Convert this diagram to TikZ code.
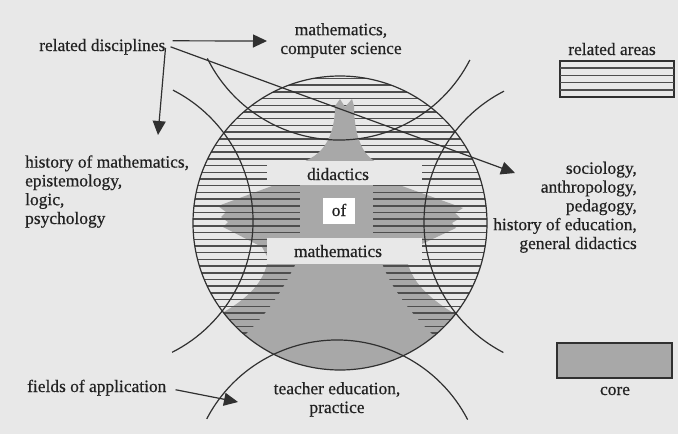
\documentclass[tikz,border=0pt]{standalone}
\usepackage{fontspec}
\setmainfont{Liberation Serif}[FakeBold=0.5]
\usetikzlibrary{arrows.meta}
\definecolor{bgc}{HTML}{E8E8E8}
\definecolor{coreg}{HTML}{A8A8A8}
\definecolor{ink}{HTML}{303030}
\definecolor{txt}{HTML}{222222}
\definecolor{hatchc}{HTML}{4E4E4E}
\begin{document}
\begin{tikzpicture}[x=1pt,y=-1pt,
  lbl/.style={inner sep=0pt, text=txt, font=\fontsize{17.4pt}{18.8pt}\selectfont},
  outl/.style={draw=ink, line width=1.2pt},
  hatchline/.style={draw=hatchc, line width=1.5pt},
  arr/.style={draw=ink, line width=1.2pt, -{Triangle[length=14pt,width=13pt]}},
]
\fill[bgc] (0,0) rectangle (678,434);
\useasboundingbox (0,0) rectangle (678,434);

% ---- interior of the main circle
\begin{scope}
\clip (340,223) circle[radius=147];
% core (gray) shape
\fill[coreg] (272,186) -- (218,206) -- (226,212) -- (221,217) -- (228,222) -- (223,227)
  -- (262,247) -- (268,258) -- (267,264) .. controls (262,285) and (245,300) .. (222,313)
  -- (212,335) -- (212,440) -- (470,440) -- (468,335) -- (455,314)
  .. controls (432,300) and (414,285) .. (408,264) -- (412,252) -- (422,244)
  -- (456,228) -- (452,223) -- (460,218) -- (455,213) -- (463,208) -- (402,186)
  -- (373,160) -- (307,160) -- cycle;
% hatching of the related areas
\foreach \k in {0,...,38}
  \draw[hatchline] (185,{78.5+6.7*\k}) -- (495,{78.5+6.7*\k});
% solid parts of the core
\fill[coreg] (307,160) .. controls (330,150) and (335,125) .. (335,106)
  -- (340,99) -- (345,107) -- (352,99) -- (354,106)
  .. controls (354,125) and (358,150) .. (373,160) -- cycle;
\fill[coreg] (300,184.5) rectangle (373,238);
\fill[coreg] (296,263.5) .. controls (285,285) and (272,310) .. (240,340)
  -- (235,440) -- (445,440) -- (438,340)
  .. controls (412,315) and (392,290) .. (382,263.5) -- cycle;
% white bands
\fill[bgc] (267,161) rectangle (422,184.5);
\fill[bgc] (267,238) rectangle (422,263.5);
\end{scope}
\fill[white] (323,198) rectangle (355,224);

% ---- outlines
\draw[outl] (340,223) circle[radius=147];
\draw[outl] (339,-7) ++(153.6:147) arc[start angle=153.6, end angle=27.1, radius=147];
\draw[outl] (106,221) ++(-62.9:147) arc[start angle=-62.9, end angle=63.3, radius=147];
\draw[outl] (571,222) ++(242.9:147) arc[start angle=242.9, end angle=117.4, radius=147];
\draw[outl] (337,487) ++(207.6:147) arc[start angle=207.6, end angle=332.7, radius=147];

% ---- legend
\draw[ink, line width=1.1pt] (560,61) rectangle (674,97);
\foreach \yy in {68.2,75.4,82.6,89.8}
  \draw[hatchline] (560,\yy) -- (674,\yy);
\filldraw[fill=coreg, draw=ink, line width=1.1pt] (557,343) rectangle (672,378);

% ---- labels (multi-line nodes: base = last line)
\node[lbl, anchor=base west] (reldisc) at (39,51) {related disciplines};
\node[lbl, align=center, anchor=base] (mathcs) at (341,54) {mathematics,\\computer science};
\node[lbl, anchor=base] (relareas) at (612,55) {related areas};
\node[lbl, align=left, anchor=base west] (histm) at (25,224) {history of mathematics,\\epistemology,\\logic,\\psychology};
\node[lbl, align=right, anchor=base east] (socio) at (637,249) {sociology,\\anthropology,\\pedagogy,\\history of education,\\general didactics};
\node[lbl, anchor=base] (didac) at (338,180) {didactics};
\node[lbl, anchor=base] (ofl) at (339,216) {of};
\node[lbl, anchor=base] (mathem) at (338,257) {mathematics};
\node[lbl, anchor=base west] (fields) at (27,392) {fields of application};
\node[lbl, align=center, anchor=base] (teach) at (337,413) {teacher education,\\practice};
\node[lbl, anchor=base] (corel) at (615,395) {core};

% ---- arrows
\coordinate (a1tip) at (267,41);
\coordinate (a2tip) at (158,135);
\coordinate (a3tip) at (515,173);
\coordinate (a4tip) at (238,402);
\draw[arr] ([shift={(7,-6)}]reldisc.east) -- (a1tip);
\draw[arr] ([shift={(0,1)}]reldisc.east) -- (a2tip);
\draw[arr] ([shift={(5,0)}]reldisc.east) -- (a3tip);
\draw[arr] ([shift={(9,2)}]fields.east) -- (a4tip);
\end{tikzpicture}
\end{document}
